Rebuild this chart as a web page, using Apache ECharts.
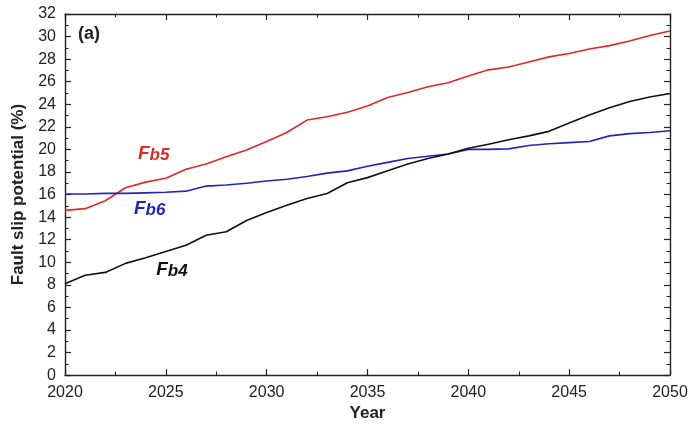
<!DOCTYPE html>
<html>
<head>
<meta charset="utf-8">
<script src="https://cdn.jsdelivr.net/npm/echarts@6/dist/echarts.min.js"></script>
<style>
  html, body { margin: 0; padding: 0; background: #ffffff; }
  #chart { width: 691px; height: 427px; }
</style>
</head>
<body>
<div id="chart"></div>
<script>
// Years of the projection
const years = [2020, 2021, 2022, 2023, 2024, 2025, 2026, 2027, 2028, 2029, 2030,
               2031, 2032, 2033, 2034, 2035, 2036, 2037, 2038, 2039, 2040,
               2041, 2042, 2043, 2044, 2045, 2046, 2047, 2048, 2049, 2050];

// Fault slip potential (%) per fault
const fb4 = [8.1, 8.85, 9.1, 9.9, 10.4, 10.95, 11.5, 12.4, 12.7, 13.7, 14.4,
             15.05, 15.65, 16.1, 17.05, 17.5, 18.1, 18.7, 19.2, 19.6, 20.1,
             20.45, 20.85, 21.2, 21.6, 22.35, 23.05, 23.7, 24.25, 24.65, 24.95];
const fb5 = [14.6, 14.75, 15.45, 16.6, 17.1, 17.45, 18.25, 18.7, 19.35, 19.95, 20.7,
             21.5, 22.6, 22.9, 23.3, 23.85, 24.6, 25.05, 25.55, 25.9, 26.5,
             27.05, 27.3, 27.75, 28.2, 28.5, 28.9, 29.2, 29.6, 30.1, 30.5];
const fb6 = [16.05, 16.05, 16.1, 16.1, 16.15, 16.2, 16.3, 16.75, 16.85, 17.0, 17.2,
             17.35, 17.6, 17.9, 18.1, 18.5, 18.85, 19.2, 19.4, 19.6, 20.0,
             20.0, 20.05, 20.35, 20.5, 20.6, 20.7, 21.2, 21.4, 21.5, 21.65];

const pairs = vals => years.map((y, i) => [y, vals[i]]);

const axisColor = '#222';
const fontFamily = 'Liberation Sans, Arial, sans-serif';

const chart = echarts.init(document.getElementById('chart'), null, { renderer: 'canvas' });

function frameAxis(extra) {
  return Object.assign({
    axisLine: { show: true, onZero: false, lineStyle: { color: axisColor, width: 1.4 } },
    axisTick: { show: true, inside: true, length: 6, lineStyle: { color: axisColor, width: 1.2 } },
    minorTick: { show: true, splitNumber: 2, length: 3.5, lineStyle: { color: axisColor, width: 1 } },
    splitLine: { show: false },
    minorSplitLine: { show: false }
  }, extra);
}

// Curve names drawn as "F" + smaller "b#", italic bold
function curveLabel(year, value, suffix, color) {
  return {
    symbol: 'circle', symbolSize: 0,
    data: [{
      coord: [year, value],
      label: {
        show: true, position: 'inside',
        formatter: '{F|F}{s|' + suffix + '}',
        rich: {
          F: { fontSize: 19, fontStyle: 'italic', fontWeight: 'bold', color: color, fontFamily: fontFamily },
          s: { fontSize: 17, fontStyle: 'italic', fontWeight: 'bold', color: color, fontFamily: fontFamily, padding: [3, 0, 0, 0] }
        }
      }
    }]
  };
}

chart.setOption({
  animation: false,
  backgroundColor: '#ffffff',
  grid: { left: 65, right: 21, top: 14, bottom: 50 },
  xAxis: [
    frameAxis({
      type: 'value', position: 'bottom', min: 2020, max: 2050, interval: 5,
      axisLabel: { color: axisColor, fontSize: 16, fontFamily: fontFamily, margin: 9, formatter: v => String(v) },
      name: 'Year', nameLocation: 'middle', nameGap: 26,
      nameTextStyle: { color: axisColor, fontSize: 17, fontWeight: 'bold', fontFamily: fontFamily }
    }),
    frameAxis({
      type: 'value', position: 'top', min: 2020, max: 2050, interval: 5,
      axisLabel: { show: false }
    })
  ],
  yAxis: [
    frameAxis({
      type: 'value', position: 'left', min: 0, max: 32, interval: 2,
      axisLabel: { color: axisColor, fontSize: 16, fontFamily: fontFamily, margin: 9 },
      name: 'Fault slip potential (%)', nameLocation: 'middle', nameGap: 37,
      nameTextStyle: { color: axisColor, fontSize: 17, fontWeight: 'bold', fontFamily: fontFamily }
    }),
    frameAxis({
      type: 'value', position: 'right', min: 0, max: 32, interval: 2,
      axisLabel: { show: false }
    })
  ],
  graphic: [
    {
      type: 'text', left: 78, top: 25,
      style: { text: '(a)', fontSize: 18, fontWeight: 'bold', fill: '#222', fontFamily: fontFamily }
    }
  ],
  series: [
    {
      name: 'Fb5', type: 'line', data: pairs(fb5), showSymbol: false,
      lineStyle: { color: '#dd2a27', width: 1.6 }, itemStyle: { color: '#dd2a27' },
      markPoint: curveLabel(2024.4, 19.6, 'b5', '#dd2a27')
    },
    {
      name: 'Fb6', type: 'line', data: pairs(fb6), showSymbol: false,
      lineStyle: { color: '#2226b4', width: 1.6 }, itemStyle: { color: '#2226b4' },
      markPoint: curveLabel(2024.2, 14.7, 'b6', '#2226b4')
    },
    {
      name: 'Fb4', type: 'line', data: pairs(fb4), showSymbol: false,
      lineStyle: { color: '#111111', width: 1.6 }, itemStyle: { color: '#111111' },
      markPoint: curveLabel(2025.3, 9.35, 'b4', '#111111')
    }
  ]
});
</script>
</body>
</html>
